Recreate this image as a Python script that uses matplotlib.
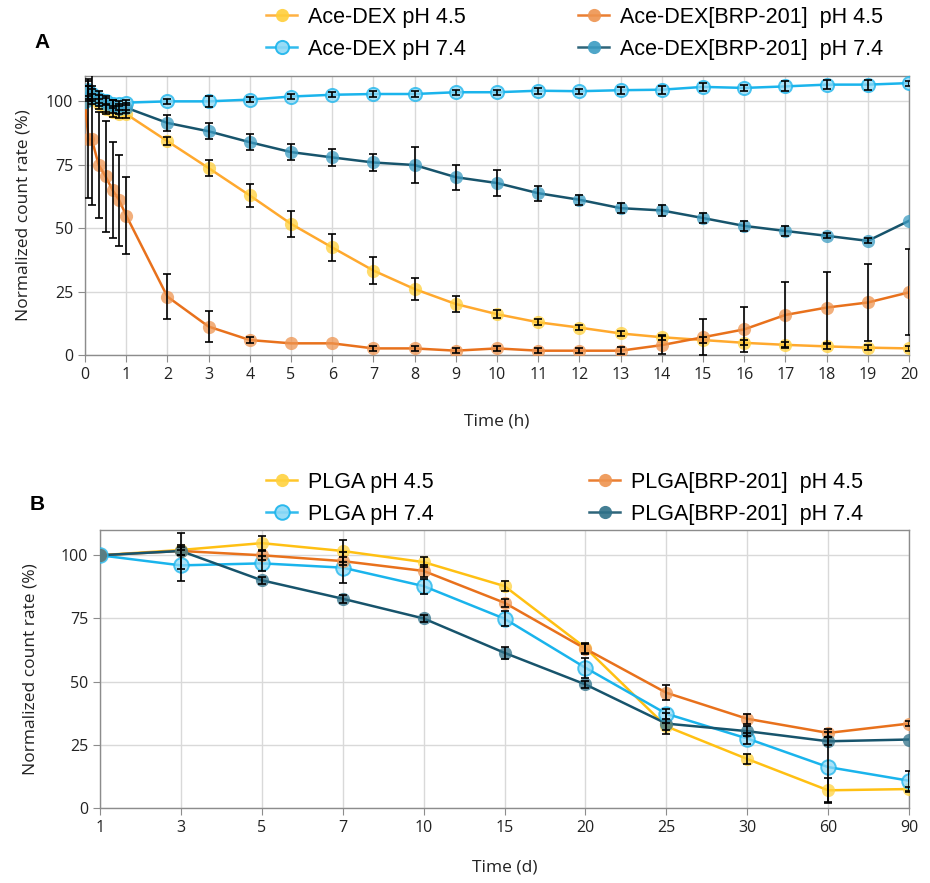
import matplotlib
matplotlib.use("Agg")
import matplotlib.pyplot as plt
import numpy as np
from matplotlib.lines import Line2D

# ---- panel A: Ace-DEX, time in hours ----
time_h = [0, 0.083, 0.167, 0.33, 0.5, 0.67, 0.83, 1, 2, 3, 4, 5, 6, 7, 8, 9, 10,
          11, 12, 13, 14, 15, 16, 17, 18, 19, 20]
acedex_45 = [100, 103, 101, 99, 97, 96, 95, 95, 84.3, 73.7, 62.9, 51.7, 42.4, 33.3, 26,
             20.1, 16.1, 12.9, 10.8, 8.5, 7, 5.9, 4.8, 4.0, 3.4, 2.9, 2.6]
acedex_45_err = [0, 3, 2, 2, 2, 2, 1.5, 1.5, 1.5, 3, 4.6, 5.1, 5.5, 5.3, 4.3, 3, 1.6,
                 1.2, 1, 1, 1, 1, 1, 1, 1, 1, 1]
acedex_74 = [100, 104, 103, 101, 100, 99, 99, 99.5, 100, 100, 100.7, 101.9, 102.6, 102.9,
             102.9, 103.6, 103.6, 104.2, 104, 104.4, 104.6, 105.7, 105.3, 105.9, 106.6,
             106.6, 107.2]
acedex_74_err = [0, 2, 2, 1.5, 1.5, 1.5, 1, 1, 1, 2.3, 1, 1, 1, 1.3, 1.3, 1, 1, 1.2, 1,
                 1.3, 1.5, 1.5, 1.3, 2, 1.8, 2, 1]
acedex_brp_45 = [100, 85, 85, 75, 70.4, 65, 61, 55, 23, 11.2, 5.9, 4.6, 4.6, 2.6, 2.6,
                 1.7, 2.6, 1.7, 1.7, 1.7, 3.9, 7, 10.1, 15.8, 18.7, 20.7, 24.7]
acedex_brp_45_err = [0, 23, 26, 21, 22, 19, 18, 15, 9, 6, 1, 0, 0, 1, 1, 1, 1, 1, 1,
                     1.5, 3.5, 7, 9, 13, 14, 15, 17]
acedex_brp_74 = [100, 105, 103, 101, 99, 98, 97, 97.5, 91.5, 88.2, 83.9, 80, 77.9, 75.9,
                 74.9, 70.1, 67.8, 63.8, 61.2, 57.9, 57, 54, 50.9, 48.9, 47, 45, 52.9]
acedex_brp_74_err = [0, 4, 3, 3, 3, 2.5, 2, 2, 3, 3.2, 3.2, 3.2, 3.2, 3.2, 7, 4.9, 5.2,
                     3, 2, 2.1, 2.1, 2.1, 2.1, 2.1, 1, 1, 0]

# ---- panel B: PLGA, time in days (categorical axis) ----
time_d = ["1", "3", "5", "7", "10", "15", "20", "25", "30", "60", "90"]
plga_45 = [100, 102.1, 104.8, 101.7, 97.3, 87.8, 63.4, 32.3, 19.4, 7, 7.5]
plga_45_err = [0, 2, 3, 4.4, 2, 2, 2, 1.5, 2, 5, 1]
plga_74 = [100, 96, 96.8, 95.1, 87.8, 74.9, 55.5, 37.3, 27.5, 16.2, 10.8]
plga_74_err = [0, 6.2, 3, 6, 3, 3, 4, 2, 2, 14, 4]
plga_brp_45 = [100, 101.7, 100, 97.7, 93.8, 81.2, 63, 45.6, 35.3, 29.7, 33.4]
plga_brp_45_err = [0, 1.5, 2, 1.5, 2.5, 1.5, 2, 3, 2, 1.5, 1]
plga_brp_74 = [100, 101.7, 90.1, 82.8, 75, 61.4, 48.9, 33.4, 30.4, 26.4, 27.1]
plga_brp_74_err = [0, 7, 1.5, 1.5, 1.5, 2.5, 1.5, 4, 2, 1.5, 0]

labels_a = ["Ace-DEX pH 4.5", "Ace-DEX pH 7.4", "Ace-DEX[BRP-201]  pH 4.5", "Ace-DEX[BRP-201]  pH 7.4"]
labels_b = ["PLGA pH 4.5", "PLGA pH 7.4", "PLGA[BRP-201]  pH 4.5", "PLGA[BRP-201]  pH 7.4"]

tick_font = "Open Sans"
legend_font = "Liberation Sans"
W, H = 930, 883

fig = plt.figure(figsize=(9.3, 8.83), dpi=100)
axA = fig.add_axes([85 / W, 1 - 355 / H, 824 / W, 279 / H])
axB = fig.add_axes([100 / W, 1 - 808 / H, 809 / W, 278 / H])


def draw(ax, x, y, err, line_c, face_c, edge_c=None, ms=9.5, z=3):
    x = np.asarray(x, dtype=float)
    y = np.asarray(y, dtype=float)
    err = np.asarray(err, dtype=float)
    ax.plot(x, y, color=line_c, lw=1.8, zorder=z)
    ax.plot(x, y, ls="none", marker="o", ms=ms, mfc=face_c,
            mec=edge_c if edge_c else "none", mew=1.4 if edge_c else 0,
            alpha=0.75, zorder=z + 0.5)
    m = err > 0
    ax.errorbar(x[m], y[m], yerr=err[m], fmt="none", ecolor="black",
                elinewidth=1.2, capsize=3, capthick=1.2, zorder=6)
    return Line2D([], [], color=line_c, lw=1.8, marker="o", ms=ms, mfc=face_c,
                  mec=edge_c if edge_c else face_c, mew=1.4 if edge_c else 0, alpha=0.9)


hA = [
    draw(axA, time_h, acedex_45, acedex_45_err, "#FFA92E", "#FFCF3A"),
    draw(axA, time_h, acedex_74, acedex_74_err, "#1AB4EC", "#8ED9F6", "#1AB4EC"),
    draw(axA, time_h, acedex_brp_45, acedex_brp_45_err, "#E8711C", "#EE9450"),
    draw(axA, time_h, acedex_brp_74, acedex_brp_74_err, "#17546C", "#3C9CC2"),
]
xb = np.arange(len(time_d))
hB = [
    draw(axB, xb, plga_45, plga_45_err, "#FFC013", "#FFD23F"),
    draw(axB, xb, plga_74, plga_74_err, "#1AB4EC", "#8ED9F6", "#1AB4EC", ms=10.5),
    draw(axB, xb, plga_brp_45, plga_brp_45_err, "#E8711C", "#EE9450"),
    draw(axB, xb, plga_brp_74, plga_brp_74_err, "#17546C", "#2F7189"),
]

axA.set_xlim(0, 20)
axA.set_xticks(range(0, 21))
axB.set_xlim(0, len(time_d) - 1)
axB.set_xticks(xb)
axB.set_xticklabels(time_d)

for ax in (axA, axB):
    ax.set_ylim(0, 110)
    ax.set_yticks([0, 25, 50, 75, 100])
    ax.grid(True, color="#D9D9D9", lw=1)
    ax.set_axisbelow(True)
    for s in ax.spines.values():
        s.set_color("#8C8C8C")
        s.set_linewidth(1)
    ax.tick_params(length=5, color="#8C8C8C", labelsize=11.5, labelcolor="#222222")
    for lab in ax.get_xticklabels() + ax.get_yticklabels():
        lab.set_family(tick_font)
    ax.set_ylabel("Normalized count rate (%)", family=tick_font, fontsize=12.5,
                  color="#222222", va="center")

axA.set_xlabel("Time (h)", family=tick_font, fontsize=12.5, color="#222222", va="center")
axB.set_xlabel("Time (d)", family=tick_font, fontsize=12.5, color="#222222", va="center")
axA.yaxis.set_label_coords((24 - 85) / 824, 0.5)
axB.yaxis.set_label_coords((31 - 100) / 809, 0.5)
axA.xaxis.set_label_coords(0.5, (355 - 422) / 279)
axB.xaxis.set_label_coords(0.5, (808 - 868) / 278)

fig.text(42 / W, 1 - 42 / H, "A", family=legend_font, fontsize=15, weight="bold",
         ha="center", va="center")
fig.text(37 / W, 1 - 504 / H, "B", family=legend_font, fontsize=15, weight="bold",
         ha="center", va="center")

# one legend per column so each column sits where the reference has it
leg_kw = dict(loc="upper left", frameon=False, borderpad=0, borderaxespad=0,
              handlelength=1.45, handletextpad=0.5, labelspacing=0.5,
              prop={"family": legend_font, "size": 15.5})
fig.legend(hA[:2], labels_a[:2], bbox_to_anchor=(266 / W, 1 - 7 / H), **leg_kw)
fig.legend(hA[2:], labels_a[2:], bbox_to_anchor=(578 / W, 1 - 7 / H), **leg_kw)
fig.legend(hB[:2], labels_b[:2], bbox_to_anchor=(266 / W, 1 - 472 / H), **leg_kw)
fig.legend(hB[2:], labels_b[2:], bbox_to_anchor=(589 / W, 1 - 472 / H), **leg_kw)

fig.savefig("out.png", dpi=100)
